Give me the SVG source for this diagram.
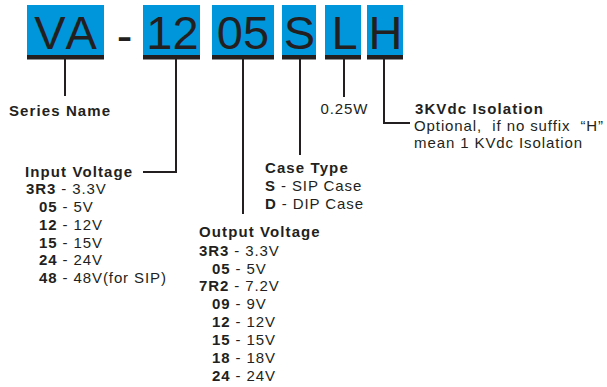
<svg xmlns="http://www.w3.org/2000/svg" width="607" height="387" viewBox="0 0 607 387">
<style>
  .box { fill: #0096DB; }
  .bar { fill: #231F20; }
  .big { font-family: "Liberation Sans", Arial, sans-serif; font-size: 47px; fill: #231F20; text-anchor: middle; font-kerning: none; }
  .t { font-family: "Liberation Sans", Arial, sans-serif; font-size: 15px; fill: #231F20; letter-spacing: 0.9px; }
  .h { font-weight: bold; letter-spacing: 1.1px; }
  .b { font-weight: bold; }
  .conn { fill: none; stroke: #231F20; stroke-width: 2; }
</style>
<rect width="607" height="387" fill="#FFFFFF"/>

<g id="code-VA">
  <rect class="box" x="27" y="5" width="77" height="50"/>
  <rect class="bar" x="27" y="55" width="77" height="4.5"/>
  <text class="big" x="65.5" y="48.5">VA</text>
</g>
<g id="code-dash">
  <text class="big" x="124.5" y="52">-</text>
</g>
<g id="code-12">
  <rect class="box" x="143" y="5" width="57" height="50"/>
  <rect class="bar" x="143" y="55" width="57" height="4.5"/>
  <text class="big" x="172.5" y="48.5">12</text>
</g>
<g id="code-05">
  <rect class="box" x="212" y="5" width="62" height="50"/>
  <rect class="bar" x="212" y="55" width="62" height="4.5"/>
  <text class="big" x="243" y="48.5">05</text>
</g>
<g id="code-S">
  <rect class="box" x="282" y="5" width="34" height="50"/>
  <rect class="bar" x="282" y="55" width="34" height="4.5"/>
  <text class="big" x="299.5" y="48.5">S</text>
</g>
<g id="code-L">
  <rect class="box" x="325" y="5" width="36" height="50"/>
  <rect class="bar" x="325" y="55" width="36" height="4.5"/>
  <text class="big" x="344.5" y="48.5">L</text>
</g>
<g id="code-H">
  <rect class="box" x="367" y="5" width="36" height="50"/>
  <rect class="bar" x="367" y="55" width="36" height="4.5"/>
  <text class="big" x="385.5" y="48.5">H</text>
</g>

<g id="connectors">
  <path class="conn" d="M65,59 V96"/>
  <path class="conn" d="M176,59 V172 H143"/>
  <path class="conn" d="M243,59 V214"/>
  <path class="conn" d="M300,59 V155"/>
  <path class="conn" d="M344,59 V97"/>
  <path class="conn" d="M384,59 V123 H410"/>
</g>

<g id="label-series">
  <text class="t h" x="9" y="116">Series Name</text>
</g>

<g id="label-input">
  <text class="t h" x="25" y="176.5">Input Voltage</text>
  <text class="t" x="26" y="194"><tspan class="b">3R3</tspan> - 3.3V</text>
  <text class="t" x="39" y="212"><tspan class="b">05</tspan> - 5V</text>
  <text class="t" x="39" y="230"><tspan class="b">12</tspan> - 12V</text>
  <text class="t" x="39" y="247.5"><tspan class="b">15</tspan> - 15V</text>
  <text class="t" x="39" y="265"><tspan class="b">24</tspan> - 24V</text>
  <text class="t" x="39" y="283"><tspan class="b">48</tspan> - 48V(for SIP)</text>
</g>

<g id="label-case">
  <text class="t h" x="265" y="173">Case Type</text>
  <text class="t" x="265" y="191"><tspan class="b">S</tspan> - SIP Case</text>
  <text class="t" x="265" y="208.5"><tspan class="b">D</tspan> - DIP Case</text>
</g>

<g id="label-output">
  <text class="t h" x="199" y="237">Output Voltage</text>
  <text class="t" x="199" y="255.5"><tspan class="b">3R3</tspan> - 3.3V</text>
  <text class="t" x="212" y="273.5"><tspan class="b">05</tspan> - 5V</text>
  <text class="t" x="199" y="291"><tspan class="b">7R2</tspan> - 7.2V</text>
  <text class="t" x="212" y="309"><tspan class="b">09</tspan> - 9V</text>
  <text class="t" x="212" y="327"><tspan class="b">12</tspan> - 12V</text>
  <text class="t" x="212" y="345"><tspan class="b">15</tspan> - 15V</text>
  <text class="t" x="212" y="363"><tspan class="b">18</tspan> - 18V</text>
  <text class="t" x="212" y="381"><tspan class="b">24</tspan> - 24V</text>
</g>

<g id="label-power">
  <text class="t" x="320.5" y="113.5">0.25W</text>
</g>

<g id="label-isolation">
  <text class="t h" x="415" y="113.5">3KVdc Isolation</text>
  <text class="t" x="414" y="130.5">Optional,&#160; if no suffix&#160; “H”</text>
  <text class="t" x="414" y="148">mean 1 KVdc Isolation</text>
</g>
</svg>
